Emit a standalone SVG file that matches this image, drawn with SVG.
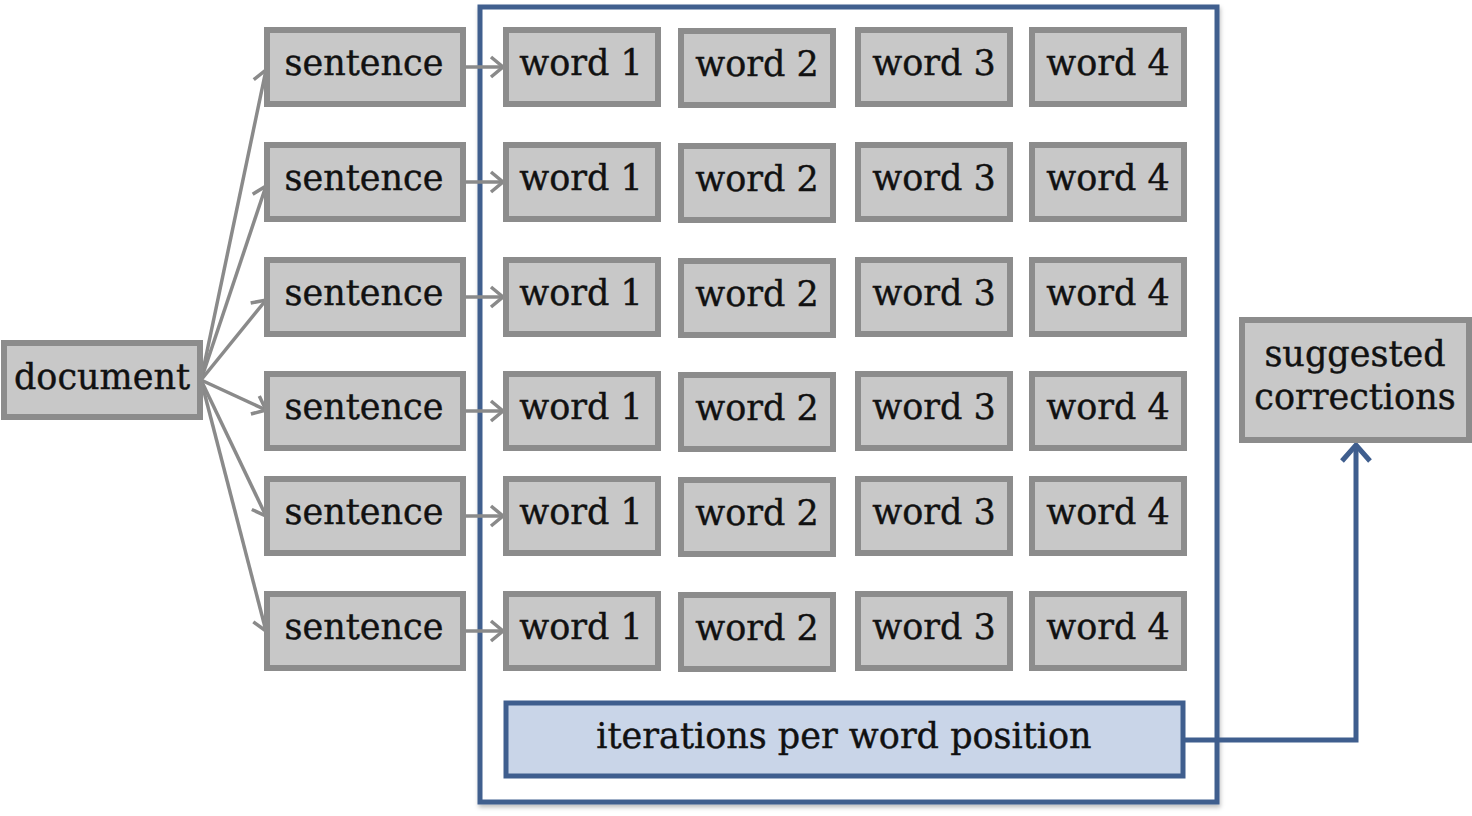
<svg xmlns="http://www.w3.org/2000/svg" width="1472" height="816" viewBox="0 0 1472 816">
  <style>
    .box { fill: #c8c8c8; stroke: #8c8c8c; stroke-width: 6; }
    .blue { fill: #c9d5e8; stroke: #3f5e8e; stroke-width: 5; }
    .frame { fill: #ffffff; stroke: #3f5e8e; stroke-width: 5; }
    .lbl { font-family: "DejaVu Serif", "Liberation Serif", serif; font-size: 35px; fill: #111111; stroke: #111111; stroke-width: 0.4; text-anchor: middle; dominant-baseline: central; }
    .g { fill: none; stroke: #8a8a8a; stroke-width: 3.5; }
    .b { fill: none; stroke: #3f5e8e; stroke-width: 5; }
  </style>
  <defs>
    <marker id="ag" markerUnits="userSpaceOnUse" markerWidth="22" markerHeight="26" refX="17" refY="13" orient="auto">
      <path d="M5,3 L17,13 L5,23" fill="none" stroke="#8a8a8a" stroke-width="3.5"/>
    </marker>
    <marker id="ab" markerUnits="userSpaceOnUse" markerWidth="28" markerHeight="34" refX="22" refY="17" orient="auto">
      <path d="M6,3 L22,17 L6,31" fill="none" stroke="#3f5e8e" stroke-width="5"/>
    </marker>
    <filter id="sh" x="-5%" y="-5%" width="110%" height="115%">
      <feDropShadow dx="1" dy="3" stdDeviation="2" flood-color="#000" flood-opacity="0.25"/>
    </filter>
  </defs>

  <!-- outer frame for per-word iterations -->
  <g id="frame">
    <rect class="frame" x="480" y="7" width="737" height="795" filter="url(#sh)"/>
  </g>

  <!-- connectors -->
  <g id="connectors">
    <path class="g" d="M201,380 L266,70" marker-end="url(#ag)"/>
    <path class="g" d="M201,380 L266,186" marker-end="url(#ag)"/>
    <path class="g" d="M201,380 L266,300" marker-end="url(#ag)"/>
    <path class="g" d="M201,380 L266,410" marker-end="url(#ag)"/>
    <path class="g" d="M201,380 L266,516" marker-end="url(#ag)"/>
    <path class="g" d="M201,380 L266,631" marker-end="url(#ag)"/>
    <path class="g" d="M464,67 L503,67" marker-end="url(#ag)"/>
    <path class="g" d="M464,182 L503,182" marker-end="url(#ag)"/>
    <path class="g" d="M464,297 L503,297" marker-end="url(#ag)"/>
    <path class="g" d="M464,411 L503,411" marker-end="url(#ag)"/>
    <path class="g" d="M464,516 L503,516" marker-end="url(#ag)"/>
    <path class="g" d="M464,631 L503,631" marker-end="url(#ag)"/>
    <path class="b" d="M1185,740 L1356,740 L1356,445" marker-end="url(#ab)"/>
  </g>

  <g id="document">
    <rect class="box" x="4" y="343" width="196" height="74"/>
    <text class="lbl" x="102" y="377">document</text>
  </g>

  <g id="sentence-1"><rect class="box" x="267" y="30" width="196" height="74"/><text class="lbl" x="364" y="63">sentence</text></g>
  <g id="sentence-2"><rect class="box" x="267" y="145" width="196" height="74"/><text class="lbl" x="364" y="178">sentence</text></g>
  <g id="sentence-3"><rect class="box" x="267" y="260" width="196" height="74"/><text class="lbl" x="364" y="293">sentence</text></g>
  <g id="sentence-4"><rect class="box" x="267" y="374" width="196" height="74"/><text class="lbl" x="364" y="407">sentence</text></g>
  <g id="sentence-5"><rect class="box" x="267" y="479" width="196" height="74"/><text class="lbl" x="364" y="512">sentence</text></g>
  <g id="sentence-6"><rect class="box" x="267" y="594" width="196" height="74"/><text class="lbl" x="364" y="627">sentence</text></g>

  <!-- word rows -->
  <g id="r1w1"><rect class="box" x="506" y="30" width="152" height="74"/><text class="lbl" x="581" y="63">word 1</text></g>
  <g id="r1w2"><rect class="box" x="681" y="31" width="152" height="74"/><text class="lbl" x="757" y="64">word 2</text></g>
  <g id="r1w3"><rect class="box" x="858" y="30" width="152" height="74"/><text class="lbl" x="934" y="63">word 3</text></g>
  <g id="r1w4"><rect class="box" x="1032" y="30" width="152" height="74"/><text class="lbl" x="1108" y="63">word 4</text></g>

  <g id="r2w1"><rect class="box" x="506" y="145" width="152" height="74"/><text class="lbl" x="581" y="178">word 1</text></g>
  <g id="r2w2"><rect class="box" x="681" y="146" width="152" height="74"/><text class="lbl" x="757" y="179">word 2</text></g>
  <g id="r2w3"><rect class="box" x="858" y="145" width="152" height="74"/><text class="lbl" x="934" y="178">word 3</text></g>
  <g id="r2w4"><rect class="box" x="1032" y="145" width="152" height="74"/><text class="lbl" x="1108" y="178">word 4</text></g>

  <g id="r3w1"><rect class="box" x="506" y="260" width="152" height="74"/><text class="lbl" x="581" y="293">word 1</text></g>
  <g id="r3w2"><rect class="box" x="681" y="261" width="152" height="74"/><text class="lbl" x="757" y="294">word 2</text></g>
  <g id="r3w3"><rect class="box" x="858" y="260" width="152" height="74"/><text class="lbl" x="934" y="293">word 3</text></g>
  <g id="r3w4"><rect class="box" x="1032" y="260" width="152" height="74"/><text class="lbl" x="1108" y="293">word 4</text></g>

  <g id="r4w1"><rect class="box" x="506" y="374" width="152" height="74"/><text class="lbl" x="581" y="407">word 1</text></g>
  <g id="r4w2"><rect class="box" x="681" y="375" width="152" height="74"/><text class="lbl" x="757" y="408">word 2</text></g>
  <g id="r4w3"><rect class="box" x="858" y="374" width="152" height="74"/><text class="lbl" x="934" y="407">word 3</text></g>
  <g id="r4w4"><rect class="box" x="1032" y="374" width="152" height="74"/><text class="lbl" x="1108" y="407">word 4</text></g>

  <g id="r5w1"><rect class="box" x="506" y="479" width="152" height="74"/><text class="lbl" x="581" y="512">word 1</text></g>
  <g id="r5w2"><rect class="box" x="681" y="480" width="152" height="74"/><text class="lbl" x="757" y="513">word 2</text></g>
  <g id="r5w3"><rect class="box" x="858" y="479" width="152" height="74"/><text class="lbl" x="934" y="512">word 3</text></g>
  <g id="r5w4"><rect class="box" x="1032" y="479" width="152" height="74"/><text class="lbl" x="1108" y="512">word 4</text></g>

  <g id="r6w1"><rect class="box" x="506" y="594" width="152" height="74"/><text class="lbl" x="581" y="627">word 1</text></g>
  <g id="r6w2"><rect class="box" x="681" y="595" width="152" height="74"/><text class="lbl" x="757" y="628">word 2</text></g>
  <g id="r6w3"><rect class="box" x="858" y="594" width="152" height="74"/><text class="lbl" x="934" y="627">word 3</text></g>
  <g id="r6w4"><rect class="box" x="1032" y="594" width="152" height="74"/><text class="lbl" x="1108" y="627">word 4</text></g>

  <g id="iterations">
    <rect class="blue" x="506" y="703" width="677" height="73"/>
    <text class="lbl" x="844" y="736">iterations per word position</text>
  </g>

  <g id="suggested-corrections">
    <rect class="box" x="1242" y="320" width="227" height="120"/>
    <text class="lbl" x="1355" y="354">suggested</text>
    <text class="lbl" x="1355" y="397">corrections</text>
  </g>
</svg>
